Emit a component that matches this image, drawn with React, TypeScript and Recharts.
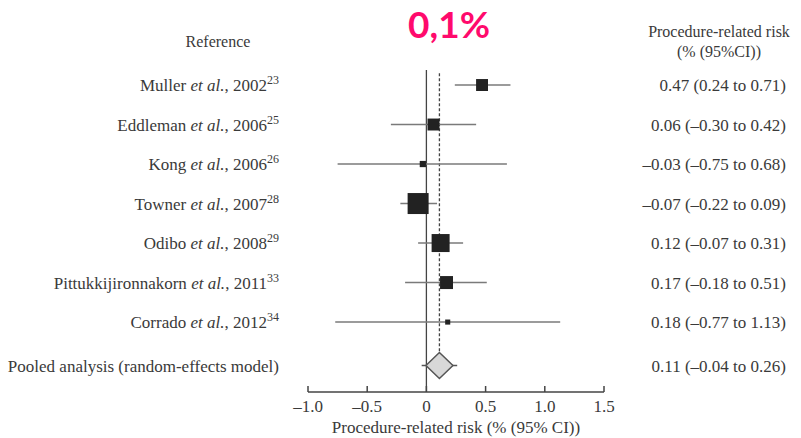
import { ScatterChart, Scatter, XAxis, YAxis, ZAxis, ErrorBar, ReferenceLine } from "recharts";

const studies = ["Muller", "Eddleman", "Kong", "Towner", "Odibo", "Pittukkijironnakorn", "Corrado"];
const years = ["2002", "2006", "2006", "2007", "2008", "2011", "2012"];
const refs = ["23", "25", "26", "28", "29", "33", "34"];
const estimates = [0.47, 0.06, -0.03, -0.07, 0.12, 0.17, 0.18];
const lowers = [0.24, -0.3, -0.75, -0.22, -0.07, -0.18, -0.77];
const uppers = [0.71, 0.42, 0.68, 0.09, 0.31, 0.51, 1.13];
const weights = [11, 11, 3, 34, 25, 13, 2];

const pooledLabel = "Pooled analysis (random-effects model)";
const pooledEstimate = 0.11;
const pooledLower = -0.04;
const pooledUpper = 0.26;

const xTicks = [-1, -0.5, 0, 0.5, 1, 1.5];
const title = "0,1%";

const SERIF = '"Liberation Serif", "DejaVu Serif", serif';
const TEXT = "#3a3a3a";

// pooled row sits a little below the last study
const pooledRow = studies.length + 0.1;

const studyData = studies.map((name, i) => ({
  x: estimates[i],
  y: i,
  w: weights[i],
  err: [estimates[i] - lowers[i], uppers[i] - estimates[i]],
}));
const pooledData = [{ x: pooledEstimate, y: pooledRow, err: [pooledEstimate - pooledLower, pooledUpper - pooledEstimate] }];
const rowTicks = [...studies.map((_, i) => i), pooledRow];

const fmt = (v: number) => (v < 0 ? "–" : "") + Math.abs(v).toFixed(2);
const fmtTick = (v: number) => (v === 0 ? "0" : (v < 0 ? "–" : "") + Math.abs(v).toFixed(1));

function rowIndex(v: number) {
  return rowTicks.findIndex((t) => Math.abs(t - v) < 1e-6);
}

function LeftTick(props: any) {
  const { x, y, payload } = props;
  const i = rowIndex(payload.value);
  if (i < 0) return null;
  if (i === studies.length) {
    return (
      <text x={x - 29} y={y + 6} textAnchor="end" fontFamily={SERIF} fontSize={17} fill={TEXT}>
        {pooledLabel}
      </text>
    );
  }
  return (
    <text x={x - 29} y={y + 6} textAnchor="end" fontFamily={SERIF} fontSize={17} fill={TEXT}>
      <tspan>{studies[i] + " "}</tspan>
      <tspan fontStyle="italic">et al.</tspan>
      <tspan>{", " + years[i]}</tspan>
      <tspan dy={-7} fontSize={12}>{refs[i]}</tspan>
    </text>
  );
}

function RightTick(props: any) {
  const { x, y, payload } = props;
  const i = rowIndex(payload.value);
  if (i < 0) return null;
  const txt =
    i === studies.length
      ? `${fmt(pooledEstimate)} (${fmt(pooledLower)} to ${fmt(pooledUpper)})`
      : `${fmt(estimates[i])} (${fmt(lowers[i])} to ${fmt(uppers[i])})`;
  return (
    <text x={x + 182} y={y + 6} textAnchor="end" fontFamily={SERIF} fontSize={17} fill={TEXT}>
      {txt}
    </text>
  );
}

function XTick(props: any) {
  const { x, y, payload } = props;
  return (
    <g>
      <line x1={x} x2={x} y1={y} y2={y - 6} stroke="#444" strokeWidth={1.5} />
      <text x={x} y={y + 20} textAnchor="middle" fontFamily={SERIF} fontSize={17} fill={TEXT}>
        {fmtTick(payload.value)}
      </text>
    </g>
  );
}

function Diamond(props: any) {
  const { cx, cy } = props;
  const hw = 13.5;
  const hh = 13;
  return (
    <polygon
      points={`${cx - hw},${cy} ${cx},${cy - hh} ${cx + hw},${cy} ${cx},${cy + hh}`}
      fill="#d8d8d8"
      stroke="#555"
      strokeWidth={1.5}
    />
  );
}

function Nothing() {
  return <g />;
}

export default function App() {
  return (
    <div style={{ position: "absolute", left: 0, top: 0, width: 801, height: 438, background: "#fff" }}>
      <div
        style={{
          position: "absolute",
          left: 449,
          top: 3,
          transform: "translateX(-50%)",
          fontFamily: "Lato, sans-serif",
          fontWeight: 700,
          fontSize: 37,
          lineHeight: "42px",
          color: "#ff0a6c",
        }}
      >
        {title}
      </div>
      <div
        style={{
          position: "absolute",
          left: 218,
          top: 32,
          transform: "translateX(-50%)",
          fontFamily: SERIF,
          fontSize: 16,
          lineHeight: "20px",
          color: TEXT,
          whiteSpace: "nowrap",
        }}
      >
        Reference
      </div>
      <div
        style={{
          position: "absolute",
          left: 719,
          top: 22,
          transform: "translateX(-50%)",
          fontFamily: SERIF,
          fontSize: 16,
          lineHeight: "20px",
          color: TEXT,
          textAlign: "center",
          whiteSpace: "nowrap",
        }}
      >
        Procedure-related risk
        <br />
        (% (95%CI))
      </div>
      <ScatterChart width={801} height={438} margin={{ top: 70, right: 196, left: 307, bottom: 0 }}>
        <XAxis
          type="number"
          dataKey="x"
          domain={[-1, 1.5]}
          ticks={xTicks}
          interval={0}
          height={46}
          tickSize={0}
          tickMargin={0}
          tickLine={false}
          axisLine={{ stroke: "#444", strokeWidth: 1.5 }}
          tick={<XTick />}
          label={{
            value: "Procedure-related risk (% (95% CI))",
            position: "insideBottom",
            offset: 5,
            fill: TEXT,
            fontSize: 17,
            fontFamily: SERIF,
          }}
        />
        <YAxis
          yAxisId="left"
          type="number"
          dataKey="y"
          domain={[-0.38, 7.77]}
          reversed
          ticks={rowTicks}
          interval={0}
          width={1}
          tickSize={0}
          tickMargin={0}
          axisLine={false}
          tickLine={false}
          tick={<LeftTick />}
        />
        <YAxis
          yAxisId="right"
          orientation="right"
          type="number"
          dataKey="y"
          domain={[-0.38, 7.77]}
          reversed
          ticks={rowTicks}
          interval={0}
          width={1}
          tickSize={0}
          tickMargin={0}
          axisLine={false}
          tickLine={false}
          tick={<RightTick />}
        />
        <ZAxis type="number" dataKey="w" domain={[0, 34]} range={[0, 441]} />
        <ReferenceLine yAxisId="left" x={0} stroke="#444" strokeWidth={1.3} />
        <ReferenceLine
          yAxisId="left"
          segment={[
            { x: pooledEstimate, y: -0.3 },
            { x: pooledEstimate, y: pooledRow },
          ]}
          stroke="#444"
          strokeWidth={1.3}
          strokeDasharray="3 2"
        />
        <Scatter yAxisId="right" data={[...studyData, ...pooledData]} shape={<Nothing />} isAnimationActive={false} />
        <Scatter yAxisId="left" data={studyData} shape="square" fill="#222" isAnimationActive={false}>
          <ErrorBar dataKey="err" direction="x" width={0} stroke="#7a7a7a" strokeWidth={1.6} />
        </Scatter>
        <Scatter yAxisId="left" data={pooledData} shape={<Diamond />} isAnimationActive={false}>
          <ErrorBar dataKey="err" direction="x" width={0} stroke="#555" strokeWidth={1.4} />
        </Scatter>
      </ScatterChart>
    </div>
  );
}
